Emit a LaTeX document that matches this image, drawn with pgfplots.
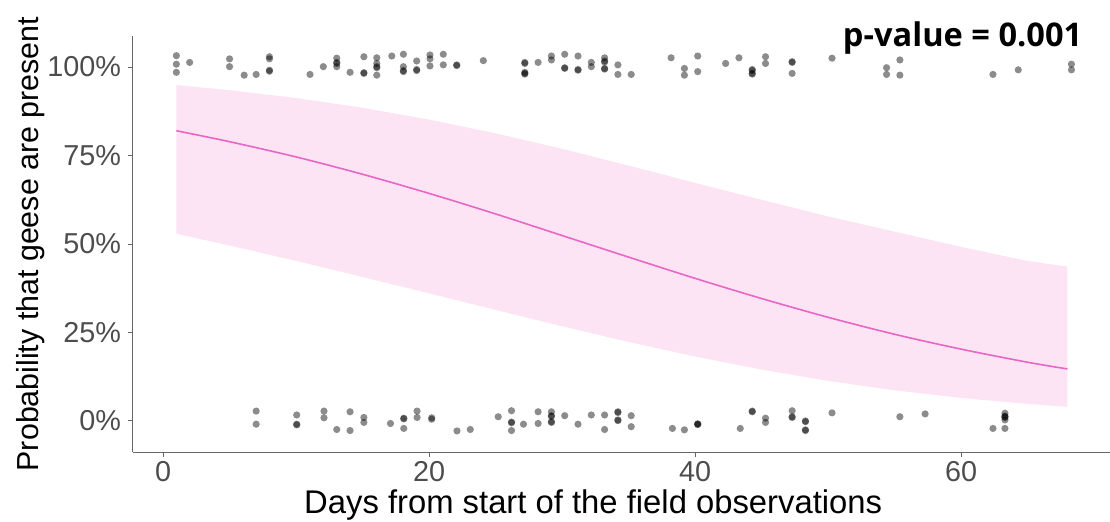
\documentclass[border=0pt]{standalone}
\usepackage{pgfplots}
\pgfplotsset{compat=1.18}
\usepackage{fontspec}
\setmainfont{Liberation Sans}
\newfontfamily\titlefont{Open Sans}
\definecolor{bandpink}{RGB}{252,228,244}
\definecolor{linepink}{RGB}{232,102,196}
\definecolor{tickgray}{RGB}{77,77,77}
\begin{document}
\begin{tikzpicture}
\begin{axis}[
  scale only axis,
  width=488.5pt, height=208pt,
  xmin=-2.26, xmax=71.2,
  ymin=-8.76, ymax=108.76,
  axis lines=left,
  axis line style={draw=black!60, line width=0.5pt, -},
  xtick={0,20,40,60},
  ytick={0,25,50,75,100},
  yticklabels={0\%,25\%,50\%,75\%,100\%},
  tick style={draw=black!60, line width=0.5pt},
  tick align=outside,
  major tick length=2.5pt,
  /pgf/number format/assume math mode=true,
  ticklabel style={font=\fontsize{14.4}{14.4}\selectfont, text=tickgray},
  xticklabel style={inner sep=1pt, yshift=-1pt},
  xlabel={Days from start of the field observations},
  ylabel={Probability that geese are present},
  xlabel style={font=\fontsize{16.4}{16.4}\selectfont, inner sep=0pt, at={(axis description cs:0.471,-0.128)}, anchor=center},
  ylabel style={font=\fontsize{15.2}{15.2}\selectfont, at={(axis description cs:-0.105,0.5)}, anchor=center, rotate=0},
  clip=false,
]
% confidence band
\addplot[fill=bandpink, draw=none] coordinates {
 (1,94.9) (5,93.45) (10,91.24) (15,88.49) (20,85.16) (25,81.27) (30,76.9) (35,72.18) (40,67.27) (45,62.5) (50,57.8) (55,53.5) (60,49.2) (65,45.2) (68,43.6)
 (68,4.01) (65,4.83) (60,6.51) (55,8.67) (50,11.33) (45,14.52) (40,18.21) (35,22.33) (30,26.76) (25,31.38) (20,36.06) (15,40.7) (10,45.22) (5,49.57) (1,52.9)
} -- cycle;
% fitted line
\addplot[linepink, line width=0.8pt, smooth] coordinates {
 (1,82.0) (5,78.9) (10,74.6) (15,69.7) (20,64.3) (25,58.5) (30,52.4) (35,46.3) (40,40.3) (45,34.6) (50,29.3) (55,24.5) (60,20.3) (65,16.6) (68,14.7)
};
% observations: geese present
\addplot[only marks, mark=*, mark size=1.8pt, mark options={draw opacity=0, fill=black, fill opacity=0.45}] coordinates {
(1.0,103.2) (1.0,100.8) (1.0,98.5)
(2.0,101.3)
(5.0,102.3) (5.0,100.1)
(6.1,97.7)
(7.0,97.9)
(8.0,102.9) (8.0,102.3) (8.0,99.1) (8.0,98.8)
(11.05,97.9)
(12.05,100.1)
(13.06,102.5) (13.06,101.3) (13.06,101.0) (13.06,100.1)
(14.06,98.5)
(15.1,102.9) (15.1,98.4) (15.1,98.2)
(16.07,102.6) (16.07,101.0) (16.07,100.1) (16.07,99.8) (16.07,97.7)
(17.2,103.1)
(18.07,103.6) (18.07,100.1) (18.07,99.0) (18.07,98.7)
(19.07,101.7) (19.07,99.3) (19.07,99.0)
(20.07,103.4) (20.07,102.3) (20.07,100.3)
(21.07,103.6) (21.07,100.6)
(22.08,100.6) (22.08,100.4)
(24.08,101.8)
(27.2,101.3) (27.2,101.0) (27.2,98.5) (27.2,98.2) (27.2,98.0)
(28.2,101.3)
(29.2,103.1) (29.2,102.0)
(30.2,103.6) (30.2,99.8) (30.2,99.6)
(31.2,103.1) (31.2,99.3) (31.2,99.1)
(32.2,101.3) (32.2,100.1)
(33.2,102.6) (33.2,101.7) (33.2,101.4) (33.2,99.6) (33.2,99.4)
(34.2,100.6) (34.2,97.9)
(35.2,97.9)
(38.2,102.6)
(39.2,99.6) (39.2,97.7)
(40.2,103.1) (40.2,98.7)
(42.3,101.0)
(43.3,102.6)
(44.3,99.3) (44.3,99.0) (44.3,98.2) (44.3,98.0)
(45.3,102.9) (45.3,101.0)
(47.3,101.5) (47.3,101.3) (47.3,98.2)
(50.3,102.5)
(54.4,99.8) (54.4,97.9)
(55.4,102.0) (55.4,97.7)
(62.4,97.9)
(64.3,99.2)
(68.3,100.8) (68.3,99.2)
};
% observations: geese absent
\addplot[only marks, mark=*, mark size=1.8pt, mark options={draw opacity=0, fill=black, fill opacity=0.45}] coordinates {
(7.0,2.8) (7.0,-0.9)
(10.05,1.7) (10.05,-1.1) (10.05,-0.9)
(12.1,2.8) (12.1,0.9)
(13.06,-2.4)
(14.06,2.6) (14.06,-2.7)
(15.1,1.0) (15.1,-0.4)
(17.1,-0.7)
(18.1,0.8) (18.1,0.6) (18.1,-2.1)
(19.1,2.8) (19.1,1.0)
(20.2,0.9) (20.2,0.5)
(22.1,-2.8)
(23.1,-2.4)
(25.2,1.2)
(26.2,2.9) (26.2,-0.5) (26.2,-0.3) (26.2,-2.7)
(27.1,-0.9)
(28.2,2.6) (28.2,-0.7)
(29.2,2.6) (29.2,1.5) (29.2,1.3) (29.2,-0.2) (29.2,-0.4)
(30.2,1.5)
(31.2,-0.9)
(32.2,1.7)
(33.2,1.7) (33.2,-2.4)
(34.2,2.6) (34.2,2.4) (34.2,0.3) (34.2,0.1)
(35.2,1.5) (35.2,-1.6)
(38.3,-2.1)
(39.2,-2.5)
(40.2,-0.9) (40.2,-0.8) (40.2,-1.0)
(43.4,-2.1)
(44.3,2.8) (44.3,2.6)
(45.3,0.8) (45.3,-0.4)
(47.3,2.9) (47.3,1.2) (47.3,1.0)
(48.3,-0.2) (48.3,0.0) (48.3,-2.5) (48.3,-2.7)
(50.3,2.3)
(55.4,1.2)
(57.3,2.0)
(62.4,-2.1)
(63.3,2.2) (63.3,1.4) (63.3,1.2) (63.3,1.0) (63.3,0.3) (63.3,-2.1)
};
\node[anchor=east, font=\titlefont\bfseries\fontsize{16.3}{16.3}\selectfont, inner sep=0pt] at (rel axis cs:0.972,0.995) {p-value = 0.001};
\end{axis}
\pgfresetboundingbox
\path[use as bounding box] (-66.5pt,-34.5pt) rectangle (488.5pt,226pt);
\end{tikzpicture}
\end{document}
